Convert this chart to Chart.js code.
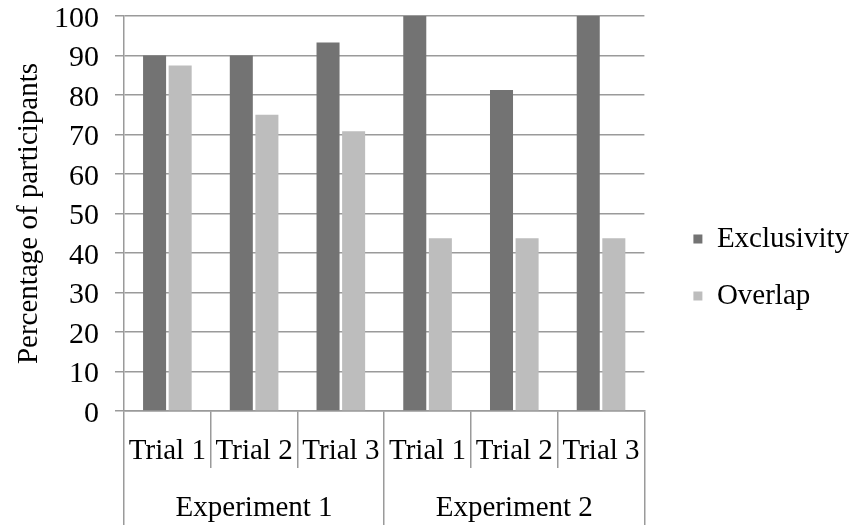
<!DOCTYPE html>
<html>
<head>
<meta charset="utf-8">
<script src="https://cdn.jsdelivr.net/npm/chart.js@4.4.1/dist/chart.umd.min.js"></script>
<style>
  html, body { margin: 0; padding: 0; background: #fff; }
  #wrap { width: 859px; height: 529px; }
</style>
</head>
<body>
<div id="wrap"><canvas id="chart"></canvas></div>
<script>
// 数据：两个实验各三轮
const trials = ['Trial 1', 'Trial 2', 'Trial 3', 'Trial 1', 'Trial 2', 'Trial 3'];
const experiments = ['Experiment 1', 'Experiment 2'];
const exclusivity = [90, 90, 93.3, 100, 81.25, 100];
const overlap = [87.5, 75, 70.8, 43.75, 43.75, 43.75];
const yMin = 0, yMax = 100, yStep = 10;

const FONT = 'Liberation Serif, Times New Roman, serif';
const GRID = '#9a9a9a';
const txt = { family: FONT, size: 29 };

new Chart(document.getElementById('chart').getContext('2d'), {
    type: 'bar',
    data: {
        labels: trials,
        datasets: [
            { label: 'Exclusivity', data: exclusivity, backgroundColor: '#737373', borderWidth: 0,
              categoryPercentage: 0.59, barPercentage: 0.9 },
            { label: 'Overlap', data: overlap, backgroundColor: '#bdbdbd', borderWidth: 0,
              categoryPercentage: 0.59, barPercentage: 0.9 }
        ]
    },
    options: {
        responsive: true, maintainAspectRatio: false, animation: false,
        layout: { padding: { top: 16, bottom: 4, left: 0, right: 0 } },
        plugins: {
            tooltip: { enabled: false },
            legend: {
                position: 'right', fullSize: false,
                // 空标题只用来把图例往下推到中间
                title: { display: true, text: '', font: { size: 1, lineHeight: 0 }, padding: { top: 87, bottom: 0 } },
                labels: {
                    font: { ...txt, lineHeight: '8px' }, color: '#000', boxWidth: 9, boxHeight: 9, padding: 49,
                    // 数组文本 → 行距由 lineHeight 决定
                    generateLabels: chart => Chart.defaults.plugins.legend.labels.generateLabels(chart)
                        .map(l => ({ ...l, text: [l.text] }))
                }
            }
        },
        scales: {
            y: {
                min: yMin, max: yMax,
                ticks: { stepSize: yStep, font: { family: FONT, size: 30, lineHeight: 0 }, color: '#000', padding: 16, labelOffset: 3 },
                grid: { color: GRID, lineWidth: 1.5, tickLength: 9 },
                border: { color: GRID, width: 1.5 },
                title: { display: true, text: 'Percentage of participants', font: txt, color: '#000', padding: { top: 12, bottom: 0 } },
                afterFit: s => { s.width = 124; }
            },
            x: {
                offset: true,
                ticks: { font: txt, color: '#000', padding: -34, maxRotation: 0, autoSkip: false },
                grid: { offset: true, drawOnChartArea: false, tickLength: 57, color: GRID, lineWidth: 1.5 },
                border: { color: GRID, width: 1.5 },
                afterFit: s => { s.height = 57; }
            },
            x2: {
                type: 'category', position: 'bottom', labels: experiments, offset: true,
                ticks: { font: txt, color: '#000', padding: -34, maxRotation: 0, autoSkip: false },
                grid: { offset: true, drawOnChartArea: false, tickLength: 57, color: GRID, lineWidth: 1.5 },
                border: { display: false },
                afterFit: s => { s.height = 57; }
            }
        }
    }
});
</script>
</body>
</html>
